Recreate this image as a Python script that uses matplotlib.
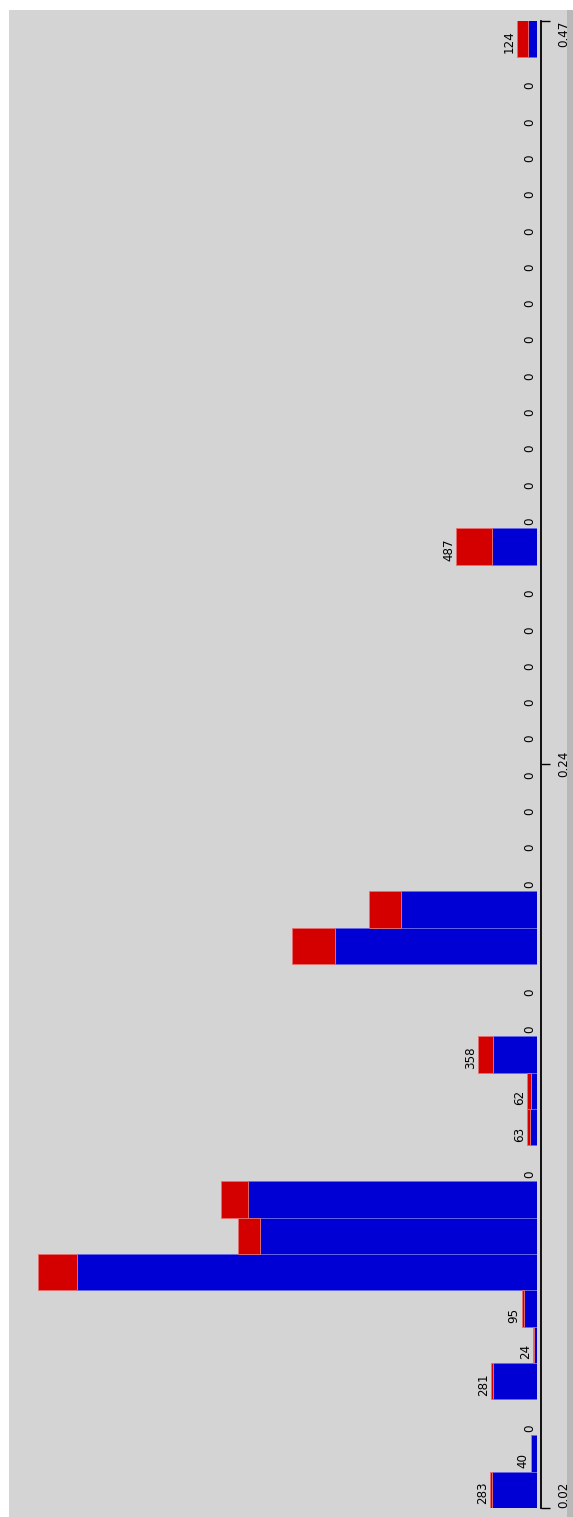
import numpy as np
import matplotlib

matplotlib.use("Agg")
import matplotlib.pyplot as plt
from matplotlib.patches import Rectangle

# bins from 0.02 to 0.47, listed from the lowest bin to the highest
bin_min = 0.02
bin_max = 0.47
n_bins = 41
blue_counts = [274, 40, 0, 265, 19, 80, 2769, 1668, 1740, 0, 43, 38, 266, 0, 0,
               1219, 818, 0, 0, 0, 0, 0, 0, 0, 0, 0, 275, 0, 0, 0, 0, 0, 0, 0,
               0, 0, 0, 0, 0, 0, 58]
red_counts = [9, 0, 0, 16, 5, 15, 238, 132, 163, 0, 20, 24, 92, 0, 0,
              255, 193, 0, 0, 0, 0, 0, 0, 0, 0, 0, 212, 0, 0, 0, 0, 0, 0, 0,
              0, 0, 0, 0, 0, 0, 66]
tick_values = [0.02, 0.245, 0.47]
tick_labels = ["0.02", "0.24", "0.47"]
label_limit = 1000  # tall bars carry no count label

BLUE = "#0000d4"
RED = "#d40000"
PANEL = "#d4d4d4"

W, H = 573, 1517
fig = plt.figure(figsize=(W / 100, H / 100), dpi=100, facecolor="white")

# grey panel and darker strip at the right
fig.patches.append(Rectangle((9 / W, 0), (567 - 9) / W, (H - 10) / H,
                             transform=fig.transFigure, facecolor=PANEL,
                             edgecolor="none", zorder=-2))
fig.patches.append(Rectangle((567 / W, 0), 6 / W, (H - 10) / H,
                             transform=fig.transFigure, facecolor="#b8b8b8",
                             edgecolor="none", zorder=-2))

ax = fig.add_axes([9 / W, 9 / H, (537.3 - 9) / W, (1508 - 20.5) / H])
ax.set_facecolor("none")

edges = np.linspace(bin_min, bin_max, n_bins + 1)
width = edges[1] - edges[0]
blue = np.array(blue_counts)
red = np.array(red_counts)
totals = blue + red

ax.barh(edges[:-1], blue, height=width, align="edge", color=BLUE,
        edgecolor="#6a6ae8", linewidth=0.6)
ax.barh(edges[:-1], red, left=blue, height=width, align="edge", color=RED,
        edgecolor="#e87070", linewidth=0.6)

for y0, total in zip(edges[:-1], totals):
    if total >= label_limit:
        continue
    ax.annotate(str(total), xy=(total, y0), xytext=(-0.6, 2.6),
                textcoords="offset points", rotation=90, ha="right",
                va="bottom", fontsize=8.6, color="black")

ax.set_xlim(528.3 / 0.1662, 0)
ax.set_ylim(bin_min, bin_max)

for side in ("left", "top", "bottom"):
    ax.spines[side].set_visible(False)
ax.spines["right"].set_position(("outward", 2.45))
ax.spines["right"].set_linewidth(1.3)
ax.set_xticks([])
ax.yaxis.tick_right()
ax.set_yticks(tick_values)
ax.set_yticklabels(tick_labels, rotation=90, fontsize=8.6)
ax.tick_params(axis="y", direction="out", length=6.2, width=1.0, pad=5.4,
               colors="black")
for lab, va in zip(ax.get_yticklabels(), ["bottom", "center", "top"]):
    lab.set_va(va)

fig.savefig("out.png", dpi=100, facecolor=fig.get_facecolor())
plt.close(fig)
